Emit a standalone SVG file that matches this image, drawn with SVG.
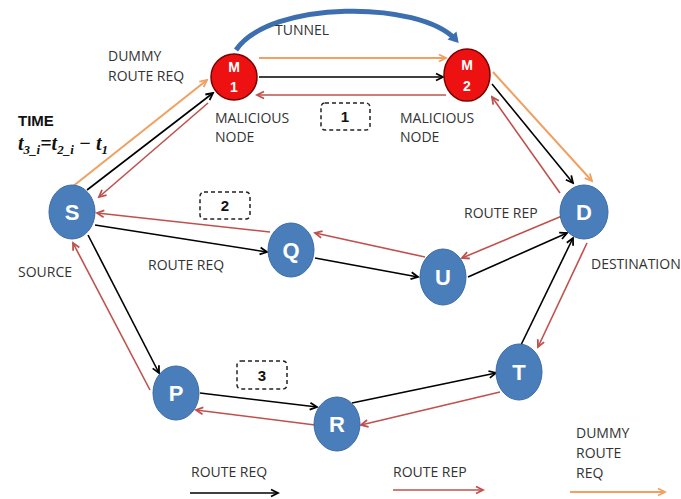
<svg xmlns="http://www.w3.org/2000/svg" width="681" height="499" viewBox="0 0 681 499">
<defs>
<marker id="ab" markerWidth="10" markerHeight="10" refX="8" refY="5" orient="auto" markerUnits="userSpaceOnUse"><path d="M1,1.5 L8,5 L1,8.5" fill="none" stroke="#000" stroke-width="1.8"/></marker>
<marker id="ar" markerWidth="10" markerHeight="10" refX="8" refY="5" orient="auto" markerUnits="userSpaceOnUse"><path d="M1,1.5 L8,5 L1,8.5" fill="none" stroke="#c0504d" stroke-width="1.8"/></marker>
<marker id="ao" markerWidth="10" markerHeight="10" refX="8" refY="5" orient="auto" markerUnits="userSpaceOnUse"><path d="M1,1.5 L8,5 L1,8.5" fill="none" stroke="#f0a060" stroke-width="1.8"/></marker>
<marker id="at" markerWidth="16" markerHeight="16" refX="8" refY="8" orient="auto" markerUnits="userSpaceOnUse"><path d="M2,2 L12,8 L2,14 Z" fill="#3d6fb0"/></marker>
</defs>
<style>
.b{stroke:#000;stroke-width:1.6;fill:none;marker-end:url(#ab)}
.r{stroke:#c0504d;stroke-width:1.6;fill:none;marker-end:url(#ar)}
.o{stroke:#f0a060;stroke-width:2;fill:none;marker-end:url(#ao)}
.bn{fill:#4a7ebb;stroke:#3c6aa3;stroke-width:1}
.mn{fill:#ee1111;stroke:#7a0000;stroke-width:1.5}
.nl{font-family:"Liberation Sans",Arial,sans-serif;font-weight:bold;fill:#fff;text-anchor:middle}
.t{font-family:"Open Sans","Liberation Sans",sans-serif;font-size:14px;fill:#333}
.box{fill:#fff;stroke:#222;stroke-width:1.5;stroke-dasharray:4 3}
.bx{font-family:"Liberation Sans",Arial,sans-serif;font-weight:bold;font-size:15px;fill:#111;text-anchor:middle}
</style>
<g id="connectors">
<path d="M236,50 C270,0 420,0 456,40" stroke="#3d6fb0" stroke-width="5" fill="none" marker-end="url(#at)"/>
<line class="o" x1="259" y1="58" x2="446" y2="58"/>
<line class="b" x1="259" y1="77" x2="443" y2="77"/>
<line class="r" x1="446" y1="95" x2="257" y2="95"/>
<line class="o" x1="72" y1="187" x2="207" y2="80"/>
<line class="b" x1="87" y1="190" x2="213" y2="93"/>
<line class="r" x1="208" y1="103" x2="99" y2="197"/>
<line class="o" x1="493" y1="72" x2="592" y2="181"/>
<line class="b" x1="492" y1="84" x2="573" y2="183"/>
<line class="r" x1="560" y1="193" x2="492" y2="97"/>
<line class="b" x1="95" y1="225" x2="267" y2="252"/>
<line class="r" x1="270" y1="232" x2="97" y2="213"/>
<line class="b" x1="315" y1="258" x2="418" y2="277"/>
<line class="r" x1="425" y1="257" x2="315" y2="233"/>
<line class="b" x1="468" y1="277" x2="567" y2="233"/>
<line class="r" x1="562" y1="216" x2="462" y2="258"/>
<line class="b" x1="520" y1="347" x2="573" y2="238"/>
<line class="r" x1="587" y1="243" x2="538" y2="347"/>
<line class="b" x1="88" y1="235" x2="159" y2="373"/>
<line class="r" x1="150" y1="390" x2="73" y2="243"/>
<line class="b" x1="200" y1="393" x2="317" y2="407"/>
<line class="r" x1="315" y1="425" x2="196" y2="410"/>
<line class="b" x1="352" y1="403" x2="496" y2="373"/>
<line class="r" x1="500" y1="392" x2="361" y2="425"/>
</g>
<g id="M1"><ellipse class="mn" cx="234" cy="77" rx="23" ry="23"/><text class="nl" x="234" y="72" font-size="14">M</text><text class="nl" x="234" y="92" font-size="14">1</text></g>
<g id="M2"><ellipse class="mn" cx="467" cy="75" rx="23" ry="26"/><text class="nl" x="467" y="70" font-size="14">M</text><text class="nl" x="467" y="91" font-size="14">2</text></g>
<g id="S"><ellipse class="bn" cx="72" cy="212" rx="23" ry="27"/><text class="nl" x="72" y="220" font-size="22">S</text></g>
<g id="Q"><ellipse class="bn" cx="291" cy="250" rx="23" ry="27"/><text class="nl" x="291" y="258" font-size="22">Q</text></g>
<g id="U"><ellipse class="bn" cx="443" cy="277" rx="23" ry="28"/><text class="nl" x="443" y="285" font-size="22">U</text></g>
<g id="D"><ellipse class="bn" cx="584" cy="212" rx="24" ry="27"/><text class="nl" x="584" y="220" font-size="22">D</text></g>
<g id="T"><ellipse class="bn" cx="519" cy="372" rx="23" ry="28"/><text class="nl" x="519" y="380" font-size="22">T</text></g>
<g id="P"><ellipse class="bn" cx="176" cy="393" rx="23" ry="27"/><text class="nl" x="176" y="401" font-size="22">P</text></g>
<g id="R"><ellipse class="bn" cx="337" cy="424" rx="23" ry="27"/><text class="nl" x="337" y="432" font-size="22">R</text></g>
<g id="box1"><rect class="box" x="321" y="103" width="49" height="27" rx="4"/><text class="bx" x="345" y="122">1</text></g>
<g id="box2"><rect class="box" x="200" y="192" width="50" height="27" rx="4"/><text class="bx" x="225" y="211">2</text></g>
<g id="box3"><rect class="box" x="237" y="361" width="50" height="28" rx="4"/><text class="bx" x="262" y="381">3</text></g>
<g id="labels">
<text class="t" x="275" y="35">TUNNEL</text>
<text class="t" x="108" y="61">DUMMY</text>
<text class="t" x="108" y="81">ROUTE REQ</text>
<text x="18" y="126" font-family="Liberation Sans,Arial,sans-serif" font-weight="bold" font-size="15" fill="#111">TIME</text>
<text x="18" y="150" font-family="Liberation Serif,serif" font-style="italic" font-weight="bold" font-size="20" fill="#111">t<tspan font-size="13" dy="4">3_i</tspan><tspan dy="-4">=t</tspan><tspan font-size="13" dy="4">2_i</tspan><tspan dy="-4"> − t</tspan><tspan font-size="13" dy="4">1</tspan></text>
<text class="t" x="215" y="123">MALICIOUS</text>
<text class="t" x="215" y="142">NODE</text>
<text class="t" x="400" y="123">MALICIOUS</text>
<text class="t" x="400" y="142">NODE</text>
<text class="t" x="18" y="277">SOURCE</text>
<text class="t" x="148" y="270">ROUTE REQ</text>
<text class="t" x="464" y="218">ROUTE REP</text>
<text class="t" x="591" y="269">DESTINATION</text>
</g>
<g id="legend">
<text class="t" x="191" y="477">ROUTE REQ</text>
<line class="b" x1="190" y1="493" x2="278" y2="493"/>
<text class="t" x="393" y="477">ROUTE REP</text>
<line class="r" x1="393" y1="490" x2="483" y2="490"/>
<text class="t" x="576" y="438">DUMMY</text>
<text class="t" x="576" y="458">ROUTE</text>
<text class="t" x="576" y="478">REQ</text>
<line class="o" x1="570" y1="492" x2="665" y2="492"/>
</g>
</svg>
